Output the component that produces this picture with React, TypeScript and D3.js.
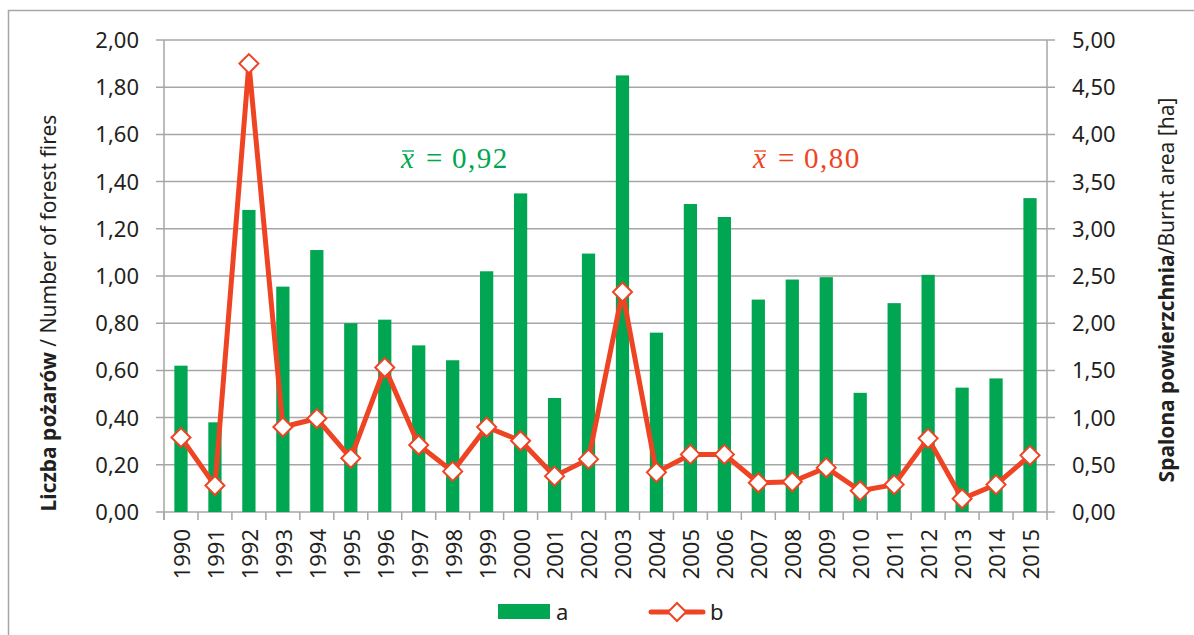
import React from "react";
import * as d3 from "d3";

const years = ["1990","1991","1992","1993","1994","1995","1996","1997","1998","1999","2000","2001","2002","2003","2004","2005","2006","2007","2008","2009","2010","2011","2012","2013","2014","2015"];
const seriesA = [0.62,0.38,1.28,0.955,1.11,0.80,0.815,0.706,0.643,1.02,1.35,0.483,1.095,1.85,0.76,1.305,1.25,0.90,0.985,0.995,0.505,0.885,1.005,0.527,0.566,1.33];
const seriesB = [0.79,0.28,4.75,0.90,0.99,0.57,1.53,0.71,0.43,0.90,0.755,0.38,0.56,2.33,0.42,0.61,0.61,0.31,0.32,0.47,0.225,0.29,0.78,0.14,0.29,0.60];
const leftTicks = [0,0.2,0.4,0.6,0.8,1.0,1.2,1.4,1.6,1.8,2.0];
const rightTicks = [0,0.5,1.0,1.5,2.0,2.5,3.0,3.5,4.0,4.5,5.0];
const meanA = "0,92";
const meanB = "0,80";

const GREEN = "#00a651";
const RED = "#ef4423";
const GRID = "#a6a6a6";
const TEXT = "#231f20";
const FONT = "'Noto Sans', sans-serif";
const SERIF = "'Liberation Serif', 'DejaVu Serif', serif";

const fmt = (v: number) => v.toFixed(2).replace(".", ",");

function MeanLabel({ x0, color, value }: { x0: number; color: string; value: string }) {
  const base = 168;
  return (
    <g fill={color} fontFamily={SERIF} fontSize={29}>
      <text x={x0} y={base} fontStyle="italic">x</text>
      <line x1={x0 + 1} x2={x0 + 13} y1={151} y2={151} stroke={color} strokeWidth={1.3} />
      <text x={x0 + 25} y={base}>=</text>
      <text x={x0 + 51} y={base} letterSpacing={1.5}>{value}</text>
    </g>
  );
}

export default function App() {
  const left = 164, right = 1047, top = 40, bottom = 512;
  const x = d3.scaleBand<string>().domain(years).range([left, right]).padding(0);
  const yL = d3.scaleLinear().domain([0, 2]).range([bottom, top]);
  const yR = d3.scaleLinear().domain([0, 5]).range([bottom, top]);
  const bw = x.bandwidth() * 0.39;
  const cx = (y: string) => (x(y) as number) + x.bandwidth() / 2;
  const line = d3.line<number>().x((_, i) => cx(years[i])).y((d) => yR(d));
  const diamond = (px: number, py: number, r: number) =>
    `M${px},${py - r}L${px + r},${py}L${px},${py + r}L${px - r},${py}Z`;

  return (
    <svg width={1194} height={635} style={{ position: "absolute", left: 0, top: 0, background: "#fff" }} fontFamily={FONT}>
      <rect x={8.5} y={10.5} width={1200} height={700} fill="#fff" stroke={GRID} strokeWidth={1.5} />
      {leftTicks.map((t) => (
        <line key={"g" + t} x1={left - 8} x2={right + 8} y1={yL(t)} y2={yL(t)} stroke={GRID} strokeWidth={1.5} />
      ))}
      <line x1={left} x2={left} y1={top} y2={bottom + 8} stroke={GRID} strokeWidth={1.5} />
      <line x1={right} x2={right} y1={top} y2={bottom + 8} stroke={GRID} strokeWidth={1.5} />
      {years.map((y) => (
        <line key={"t" + y} x1={x(y) as number} x2={x(y) as number} y1={bottom} y2={bottom + 8} stroke={GRID} strokeWidth={1.5} />
      ))}
      {leftTicks.map((t) => (
        <text key={"l" + t} x={139} y={yL(t)} dy="0.36em" textAnchor="end" fontSize={22} fill={TEXT}>{fmt(t)}</text>
      ))}
      {rightTicks.map((t) => (
        <text key={"r" + t} x={1072} y={yR(t)} dy="0.36em" textAnchor="start" fontSize={22} fill={TEXT}>{fmt(t)}</text>
      ))}
      {years.map((y) => (
        <text key={"y" + y} transform={`translate(${cx(y) + 1},${529}) rotate(-90)`} dy="0.36em" textAnchor="end" fontSize={22} fill={TEXT}>{y}</text>
      ))}
      {seriesA.map((v, i) => (
        <rect key={"b" + i} x={cx(years[i]) - bw / 2} y={yL(v)} width={bw} height={bottom - yL(v)} fill={GREEN} />
      ))}
      <path d={line(seriesB) || ""} fill="none" stroke={RED} strokeWidth={5} strokeLinejoin="round" />
      {seriesB.map((v, i) => (
        <path key={"m" + i} d={diamond(cx(years[i]), yR(v), 9.5)} fill="#fff" stroke={RED} strokeWidth={2} />
      ))}
      <text transform={`translate(56,313) rotate(-90)`} textAnchor="middle" fontSize={21} fill={TEXT}>
        <tspan fontWeight="bold">Liczba pożarów</tspan>
        <tspan> / Number of forest fires</tspan>
      </text>
      <text transform={`translate(1174,290) rotate(-90)`} textAnchor="middle" fontSize={21} fill={TEXT}>
        <tspan fontWeight="bold">Spalona powierzchnia</tspan>
        <tspan>/Burnt area [ha]</tspan>
      </text>
      <MeanLabel x0={401} color={GREEN} value={meanA} />
      <MeanLabel x0={753} color={RED} value={meanB} />
      <rect x={498} y={604} width={52} height={15} fill={GREEN} />
      <text x={556} y={620} fontSize={22} fill={TEXT}>a</text>
      <line x1={651} x2={703} y1={612} y2={612} stroke={RED} strokeWidth={5} strokeLinecap="round" />
      <path d={diamond(677, 612, 9)} fill="#fff" stroke={RED} strokeWidth={2} />
      <text x={710} y={620} fontSize={22} fill={TEXT}>b</text>
    </svg>
  );
}
